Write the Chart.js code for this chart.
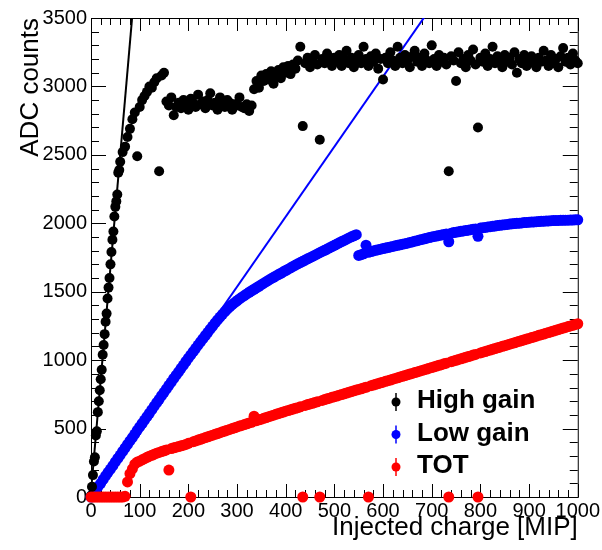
<!DOCTYPE html>
<html>
<head>
<meta charset="utf-8">
<title>ADC counts vs injected charge</title>
<script src="https://cdn.jsdelivr.net/npm/chart.js@4.4.1/dist/chart.umd.min.js"></script>
<style>
  html, body { margin: 0; padding: 0; background: #fff; }
  #chart { display: block; }
</style>
</head>
<body>
<canvas id="chart" width="602" height="550"></canvas>
<script>
// Injected charge [MIP] for low gain and TOT
const charge = [
  0, 5, 10, 15, 20, 25, 30, 35, 40, 45,
  50, 55, 60, 65, 70, 75, 80, 85, 90, 95,
  100, 105, 110, 115, 120, 125, 130, 135, 140, 145,
  150, 155, 160, 165, 170, 175, 180, 185, 190, 195,
  200, 205, 210, 215, 220, 225, 230, 235, 240, 245,
  250, 255, 260, 265, 270, 275, 280, 285, 290, 295,
  300, 305, 310, 315, 320, 325, 330, 335, 340, 345,
  350, 355, 360, 365, 370, 375, 380, 385, 390, 395,
  400, 405, 410, 415, 420, 425, 430, 435, 440, 445,
  450, 455, 460, 465, 470, 475, 480, 485, 490, 495,
  500, 505, 510, 515, 520, 525, 530, 535, 540, 545,
  550, 555, 560, 565, 570, 575, 580, 585, 590, 595,
  600, 605, 610, 615, 620, 625, 630, 635, 640, 645,
  650, 655, 660, 665, 670, 675, 680, 685, 690, 695,
  700, 705, 710, 715, 720, 725, 730, 735, 740, 745,
  750, 755, 760, 765, 770, 775, 780, 785, 790, 795,
  800, 805, 810, 815, 820, 825, 830, 835, 840, 845,
  850, 855, 860, 865, 870, 875, 880, 885, 890, 895,
  900, 905, 910, 915, 920, 925, 930, 935, 940, 945,
  950, 955, 960, 965, 970, 975, 980, 985, 990, 995,
  1000
];

const lowGainAdc = [
  0, 25, 52, 78, 100, 128, 155, 180, 204, 230,
  256, 282, 306, 333, 358, 384, 410, 434, 460, 487,
  512, 537, 562, 588, 612, 638, 664, 690, 714, 740,
  765, 790, 816, 840, 866, 890, 915, 940, 964, 990,
  1014, 1038, 1062, 1086, 1110, 1134, 1157, 1180, 1203, 1226,
  1249, 1272, 1294, 1315, 1335, 1354, 1372, 1389, 1405, 1420,
  1434, 1447, 1460, 1472, 1484, 1496, 1507, 1518, 1529, 1540,
  1551, 1562, 1573, 1584, 1595, 1605, 1615, 1625, 1635, 1645,
  1655, 1665, 1675, 1685, 1695, 1704, 1713, 1722, 1731, 1740,
  1749, 1758, 1767, 1776, 1785, 1794, 1803, 1812, 1821, 1830,
  1839, 1848, 1857, 1866, 1875, 1884, 1893, 1901, 1909, 1917,
  1765, 1771, 1777, 1840, 1788, 1793, 1798, 1803, 1807, 1811,
  1815, 1819, 1823, 1827, 1831, 1835, 1839, 1843, 1847, 1851,
  1855, 1860, 1864, 1869, 1873, 1878, 1882, 1887, 1891, 1896,
  1900, 1904, 1907, 1911, 1914, 1918, 1921, 1865, 1928, 1932,
  1935, 1938, 1941, 1944, 1947, 1950, 1953, 1956, 1959, 1905,
  1965, 1968, 1970, 1973, 1975, 1978, 1980, 1983, 1985, 1988,
  1990, 1992, 1994, 1996, 1998, 2000, 2001, 2003, 2005, 2006,
  2008, 2009, 2010, 2012, 2013, 2014, 2015, 2016, 2017, 2019,
  2020, 2020, 2021, 2022, 2022, 2023, 2023, 2024, 2024, 2025,
  2025
];

const totAdc = [
  0, 0, 0, 0, 0, 0, 0, 0, 0, 0,
  0, 0, 0, 0, 5, 110, 170, 205, 240, 255,
  262, 272, 280, 290, 298, 305, 313, 320, 326, 332,
  338, 344, 197, 354, 359, 364, 369, 374, 379, 384,
  392, 0, 404, 410, 416, 422, 428, 434, 440, 446,
  452, 458, 464, 470, 476, 482, 488, 494, 500, 506,
  512, 518, 523, 529, 535, 541, 546, 590, 558, 564,
  569, 575, 581, 587, 592, 598, 604, 610, 615, 621,
  627, 632, 637, 643, 648, 653, 659, 0, 669, 675,
  680, 685, 691, 696, 0, 706, 712, 717, 722, 728,
  733, 738, 744, 749, 754, 760, 765, 770, 776, 781,
  786, 791, 797, 802, 0, 813, 818, 823, 829, 834,
  839, 845, 850, 855, 861, 866, 871, 877, 882, 887,
  893, 898, 903, 909, 914, 919, 925, 930, 935, 941,
  946, 951, 957, 962, 967, 973, 978, 0, 989, 994,
  999, 1005, 1010, 1015, 1021, 1026, 1031, 1037, 1042, 0,
  1053, 1058, 1063, 1069, 1074, 1079, 1085, 1090, 1095, 1101,
  1106, 1111, 1117, 1122, 1127, 1133, 1138, 1143, 1149, 1154,
  1159, 1165, 1170, 1175, 1181, 1186, 1191, 1197, 1202, 1207,
  1213, 1218, 1223, 1229, 1234, 1239, 1245, 1250, 1255, 1261,
  1266
];

// High gain was scanned finer below 60 MIP
const highGainCharge = [
  0, 2, 4, 6, 8, 10, 12, 14, 16, 18,
  20, 22, 24, 26, 28, 30, 32, 34, 36, 38,
  40, 42, 44, 46, 48, 50, 52, 54, 56, 58,
  60, 65, 70, 75, 80, 85, 90, 95, 100, 105,
  110, 115, 120, 125, 130, 135, 140, 145, 150, 155,
  160, 165, 170, 175, 180, 185, 190, 195, 200, 205,
  210, 215, 220, 225, 230, 235, 240, 245, 250, 255,
  260, 265, 270, 275, 280, 285, 290, 295, 300, 305,
  310, 315, 320, 325, 330, 335, 340, 345, 350, 355,
  360, 365, 370, 375, 380, 385, 390, 395, 400, 405,
  410, 415, 420, 425, 430, 435, 440, 445, 450, 455,
  460, 465, 470, 475, 480, 485, 490, 495, 500, 505,
  510, 515, 520, 525, 530, 535, 540, 545, 550, 555,
  560, 565, 570, 575, 580, 585, 590, 595, 600, 605,
  610, 615, 620, 625, 630, 635, 640, 645, 650, 655,
  660, 665, 670, 675, 680, 685, 690, 695, 700, 705,
  710, 715, 720, 725, 730, 735, 740, 745, 750, 755,
  760, 765, 770, 775, 780, 785, 790, 795, 800, 805,
  810, 815, 820, 825, 830, 835, 840, 845, 850, 855,
  860, 865, 870, 875, 880, 885, 890, 895, 900, 905,
  910, 915, 920, 925, 930, 935, 940, 945, 950, 955,
  960, 965, 970, 975, 980, 985, 990, 995, 1000
];

const highGainAdc = [
  10, 75, 160, 260, 290, 450, 480, 620, 700, 780,
  860, 930, 1040, 1110, 1190, 1280, 1340, 1450, 1530, 1600,
  1700, 1790, 1880, 1940, 2050, 2120, 2160, 2210, 2370, 2390,
  2450, 2520, 2560, 2630, 2690, 2760, 2810, 2490, 2850, 2900,
  2930, 2960, 3000, 2990, 3030, 3060, 2380, 3080, 3100, 2890,
  2860, 2920, 2790, 2850, 2880, 2840, 2900, 2870, 2830, 2910,
  2880, 2850, 2940, 2870, 2890, 2840, 2900, 2950, 2860, 2880,
  2830, 2920, 2870, 2850, 2900, 2880, 2830, 2870, 2860, 2920,
  2850, 2840, 2870, 2820, 2860, 2980, 3040, 2990, 3080, 3040,
  3090, 3050, 3110, 3020, 3080, 3120, 3060, 3140, 3100, 3150,
  3090, 3160, 3130, 3190, 3290, 2710, 3170, 3210, 3140, 3190,
  3230, 3160, 2610, 3200, 3170, 3240, 3180, 3150, 3210, 3180,
  3230, 3150, 3200, 3260, 3170, 3210, 3140, 3190, 3230, 3170,
  3290, 3200, 3150, 3220, 3180, 3240, 3130, 3200, 3050, 3210,
  3170, 3250, 3190, 3150, 3290, 3210, 3170, 3230, 3190, 3140,
  3220, 3260, 3180, 3210, 3150, 3240, 3190, 3170, 3300, 3200,
  3150, 3230, 3180, 3210, 3160, 2380, 3220, 3190, 3040, 3250,
  3170, 3200, 3140, 3230, 3190, 3270, 3160, 2700, 3210, 3180,
  3240, 3150, 3200, 3290, 3170, 3220, 3190, 3140, 3230, 3180,
  3210, 3160, 3250, 3100, 3200, 3170, 3230, 3150, 3190, 3220,
  3170, 3140, 3210, 3180, 3260, 3190, 3150, 3230, 3170, 3200,
  3140, 3220, 3280, 3180, 3210, 3160, 3240, 3190, 3170
];

// Linear fits, drawn across the range and clipped by the frame
const highGainFitX = [0, 100];
const highGainFitY = [40, 4140];
const lowGainFitX = [0, 1000];
const lowGainFitY = [0, 5120];

const legendLabels = ["High gain", "Low gain", "TOT"];
const legendColors = ["#000000", "#0000ff", "#ff0000"];

const FONT = "'Liberation Sans', Arial, Helvetica, sans-serif";

function toPoints(xs, ys) {
  return xs.map((x, i) => ({ x: x, y: ys[i] }));
}

// ROOT style frame with inward ticks on all four sides
const rootFrame = {
  id: "rootFrame",
  beforeDatasetsDraw(chart) {
    const { ctx, chartArea: a } = chart;
    const x = chart.scales.x;
    const y = chart.scales.y;
    ctx.save();
    ctx.strokeStyle = "#000";
    ctx.lineWidth = 1;
    ctx.beginPath();
    for (let v = 0; v <= 1000; v += 20) {
      const px = Math.round(x.getPixelForValue(v)) + 0.5;
      const len = v % 100 === 0 ? 13 : 7;
      ctx.moveTo(px, a.bottom);
      ctx.lineTo(px, a.bottom - len);
      ctx.moveTo(px, a.top);
      ctx.lineTo(px, a.top + len);
    }
    for (let v = 0; v <= 3500; v += 100) {
      const py = Math.round(y.getPixelForValue(v)) + 0.5;
      const len = v % 500 === 0 ? 15 : 8;
      ctx.moveTo(a.left, py);
      ctx.lineTo(a.left + len, py);
      ctx.moveTo(a.right, py);
      ctx.lineTo(a.right - len, py);
    }
    ctx.stroke();
    ctx.strokeRect(a.left + 0.5, a.top + 0.5, a.right - a.left, a.bottom - a.top);
    ctx.restore();
  }
};

// Legend with error-bar style markers
const rootLegend = {
  id: "rootLegend",
  afterDatasetsDraw(chart) {
    const ctx = chart.ctx;
    ctx.save();
    legendLabels.forEach((label, i) => {
      const mx = 396;
      const my = 402 + i * 32.5;
      ctx.strokeStyle = legendColors[i];
      ctx.fillStyle = legendColors[i];
      ctx.lineWidth = 1.5;
      ctx.beginPath();
      ctx.moveTo(mx, my - 9);
      ctx.lineTo(mx, my + 9);
      ctx.stroke();
      ctx.beginPath();
      ctx.arc(mx, my, 4.5, 0, Math.PI * 2);
      ctx.fill();
      ctx.fillStyle = "#000";
      ctx.font = "bold 26px " + FONT;
      ctx.textAlign = "left";
      ctx.textBaseline = "middle";
      ctx.fillText(label, 417, my - 1);
    });
    ctx.restore();
  }
};

const pointStyle = (color, radius, order) => ({
  backgroundColor: color,
  borderColor: color,
  borderWidth: 0,
  pointRadius: radius,
  pointHoverRadius: radius,
  showLine: false,
  clip: false,
  order: order
});

new Chart(document.getElementById("chart"), {
  type: "scatter",
  data: {
    datasets: [
      Object.assign({ label: "TOT", data: toPoints(charge, totAdc) }, pointStyle("#ff0000", 5.5, 0)),
      Object.assign({ label: "High gain", data: toPoints(highGainCharge, highGainAdc) }, pointStyle("#000000", 5, 1)),
      Object.assign({ label: "Low gain", data: toPoints(charge, lowGainAdc) }, pointStyle("#0000ff", 5.5, 2)),
      {
        label: "High gain fit",
        data: toPoints(highGainFitX, highGainFitY),
        showLine: true,
        borderColor: "#000000",
        borderWidth: 2,
        pointRadius: 0,
        order: 5
      },
      {
        label: "Low gain fit",
        data: toPoints(lowGainFitX, lowGainFitY),
        showLine: true,
        borderColor: "#0000ff",
        borderWidth: 2,
        pointRadius: 0,
        order: 5
      }
    ]
  },
  options: {
    responsive: false,
    animation: false,
    events: [],
    layout: { padding: { left: 0, top: 18, right: 24, bottom: 0 } },
    plugins: {
      legend: { display: false },
      tooltip: { enabled: false }
    },
    scales: {
      x: {
        type: "linear",
        min: 0,
        max: 1000,
        grid: { display: false, drawTicks: false },
        border: { display: false },
        ticks: {
          stepSize: 100,
          autoSkip: false,
          maxRotation: 0,
          padding: 2,
          color: "#000",
          font: { family: FONT, size: 20 },
          callback: (v) => String(v)
        },
        title: {
          display: true,
          text: "Injected charge [MIP]",
          align: "end",
          color: "#000",
          font: { family: FONT, size: 26 },
          padding: { top: 0, bottom: 7 }
        },
        afterFit(scale) {
          scale.height = 53;
        }
      },
      y: {
        type: "linear",
        min: 0,
        max: 3500,
        grid: { display: false, drawTicks: false },
        border: { display: false },
        ticks: {
          stepSize: 500,
          autoSkip: false,
          padding: 4,
          color: "#000",
          font: { family: FONT, size: 20 },
          callback: (v) => String(v)
        },
        title: {
          display: true,
          text: "ADC counts",
          align: "end",
          color: "#000",
          font: { family: FONT, size: 26 },
          padding: { top: 15, bottom: 0 }
        },
        afterFit(scale) {
          scale.width = 91;
        }
      }
    }
  },
  plugins: [rootFrame, rootLegend]
});
</script>
</body>
</html>
